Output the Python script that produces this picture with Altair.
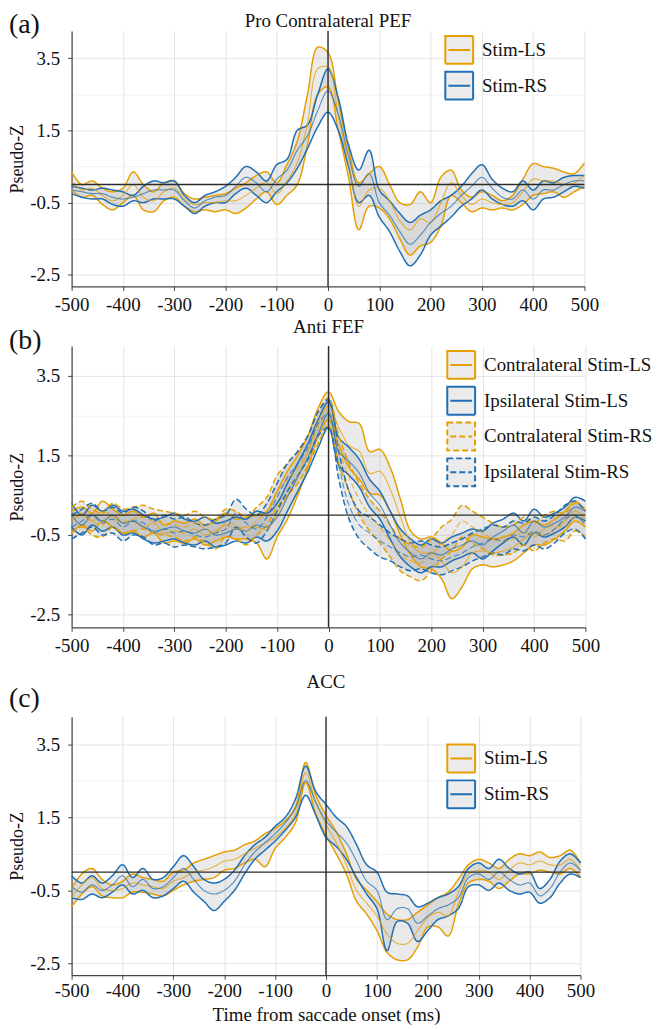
import altair as alt
import pandas as pd

T = list(range(-500, 501, 20))

# ---------------- Panel (a): Pro Contralateral PEF ----------------
A_LS_HI = [0.35, 0.0, 0.1, -0.1, -0.2, -0.1, 0.35, 0.0, -0.2, 0.05, 0.1, -0.25, -0.4, -0.35, -0.3, -0.25, -0.1, 0.05, 0.25, 0.35, 0.05,
           0.55, 1.2, 2.5, 3.8, 3.65, 2.3, 1.0, 0.05, 0.3, 0.5, 0.0, -0.5, -0.55, -0.2, -0.5, 0.2, 0.4, -0.15, -0.35, -0.2,
           -0.3, -0.45, -0.3, 0.15, 0.58, 0.5, 0.45, 0.35, 0.3, 0.6]
A_LS_MEAN = [0.1, -0.15, -0.1, -0.3, -0.45, -0.3, 0.0, -0.35, -0.45, -0.2, -0.1, -0.4, -0.55, -0.5, -0.5, -0.45, -0.45, -0.3, -0.1, 0.05, -0.25,
             0.1, 0.6, 1.7, 3.2, 3.25, 1.9, 0.6, -0.6, -0.15, -0.1, -0.45, -1.0, -1.25, -0.95, -1.05, -0.5, 0.05, -0.3, -0.55, -0.4,
             -0.5, -0.55, -0.5, -0.2, 0.15, 0.1, 0.1, 0.0, 0.05, 0.25]
A_LS_LO = [-0.15, -0.35, -0.3, -0.55, -0.7, -0.5, -0.3, -0.7, -0.75, -0.45, -0.35, -0.6, -0.75, -0.7, -0.75, -0.7, -0.8, -0.65, -0.4, -0.2, -0.55,
           -0.3, 0.0, 1.1, 2.5, 2.7, 1.5, 0.2, -1.25, -0.6, -0.65, -0.95, -1.5, -1.95, -1.7, -1.6, -1.15, -0.3, -0.5, -0.75, -0.65,
           -0.7, -0.65, -0.7, -0.55, -0.3, -0.25, -0.2, -0.35, -0.2, -0.05]
A_RS_HI = [-0.05, -0.1, -0.15, -0.1, -0.15, -0.2, -0.3, -0.05, 0.1, 0.05, 0.1, -0.3, -0.5, -0.3, -0.2, -0.05, 0.2, 0.5, 0.35, 0.1, 0.55,
           0.7, 1.5, 1.65, 2.5, 3.2, 2.4, 1.1, 0.4, 0.95, -0.15, -0.45, -0.8, -1.05, -0.85, -0.7, -0.45, -0.3, -0.05, 0.3, 0.55,
           0.15, -0.1, -0.2, 0.1, -0.15, 0.1, 0.05, 0.2, 0.25, 0.25]
A_RS_MEAN = [-0.15, -0.2, -0.25, -0.25, -0.35, -0.4, -0.35, -0.25, -0.15, -0.15, -0.15, -0.45, -0.65, -0.45, -0.35, -0.3, -0.05, 0.2, 0.05, -0.2, 0.15,
             0.4, 0.95, 1.35, 2.05, 2.6, 1.95, 0.8, -0.05, 0.3, -0.5, -0.85, -1.3, -1.65, -1.4, -1.05, -0.8, -0.6, -0.3, -0.05, 0.2,
             -0.1, -0.35, -0.4, -0.15, -0.4, -0.15, -0.15, 0.0, 0.1, 0.1]
A_RS_LO = [-0.25, -0.35, -0.4, -0.4, -0.55, -0.6, -0.45, -0.5, -0.4, -0.4, -0.4, -0.6, -0.8, -0.6, -0.5, -0.5, -0.25, -0.1, -0.3, -0.5, -0.2,
           0.05, 0.45, 1.0, 1.6, 2.0, 1.5, 0.5, -0.5, -0.3, -0.9, -1.3, -1.85, -2.25, -1.95, -1.4, -1.15, -0.9, -0.6, -0.4, -0.15,
           -0.4, -0.55, -0.6, -0.45, -0.7, -0.4, -0.35, -0.2, -0.05, -0.1]

# ---------------- Panel (b): Anti FEF ----------------
B_CLS_HI = [0.1, 0.2, 0.05, 0.35, 0.15, 0.0, 0.1, -0.05, 0.05, -0.25, -0.15, -0.2, -0.1, -0.25, -0.15, 0.05, -0.1, -0.05, 0.0, 0.1, 0.6,
            1.1, 1.5, 2.0, 2.7, 3.1, 2.6, 2.35, 2.3, 1.6, 1.65, 1.2, 0.4, -0.4, -0.6, -0.55, -0.7, -0.9, -0.8, -0.5, -0.55,
            -0.6, -0.55, -0.45, -0.25, -0.15, -0.25, -0.1, 0.1, 0.35, 0.1]
B_CLS_MEAN = [-0.15, 0.0, -0.15, 0.1, -0.05, -0.2, -0.15, -0.3, -0.2, -0.45, -0.4, -0.45, -0.35, -0.5, -0.4, -0.25, -0.35, -0.3, -0.3, -0.35, 0.05,
              0.5, 1.0, 1.6, 2.35, 2.75, 2.2, 1.75, 1.6, 1.05, 1.1, 0.65, -0.05, -0.7, -0.95, -0.95, -1.15, -1.45, -1.3, -0.95, -0.9,
              -0.95, -0.9, -0.8, -0.6, -0.45, -0.5, -0.35, -0.15, 0.1, -0.1]
B_CLS_LO = [-0.45, -0.25, -0.4, -0.15, -0.3, -0.45, -0.4, -0.55, -0.45, -0.7, -0.65, -0.7, -0.6, -0.75, -0.65, -0.55, -0.6, -0.6, -0.7, -1.1, -0.55,
            -0.1, 0.5, 1.2, 2.0, 2.4, 1.75, 1.2, 0.9, 0.55, 0.5, 0.1, -0.5, -1.0, -1.3, -1.35, -1.6, -2.1, -1.8, -1.35, -1.25,
            -1.3, -1.25, -1.15, -0.95, -0.75, -0.75, -0.6, -0.4, -0.15, -0.3]
B_ILS_HI = [0.3, 0.0, 0.25, 0.1, 0.25, 0.1, 0.15, 0.0, -0.1, -0.05, 0.05, -0.1, -0.15, -0.05, -0.2, -0.15, -0.05, -0.1, 0.1, 0.05, 0.3,
            0.8, 1.3, 1.8, 2.4, 2.85, 1.95, 1.7, 1.4, 0.9, 0.6, 0.1, -0.35, -0.6, -0.75, -0.6, -0.7, -0.55, -0.45, -0.35, -0.4,
            -0.2, -0.1, 0.05, -0.15, 0.15, -0.05, 0.05, 0.2, 0.45, 0.35]
B_ILS_MEAN = [0.0, -0.25, 0.0, -0.15, 0.0, -0.2, -0.15, -0.3, -0.4, -0.35, -0.3, -0.4, -0.45, -0.35, -0.5, -0.45, -0.35, -0.4, -0.25, -0.3, -0.05,
              0.45, 0.95, 1.45, 2.05, 2.55, 1.6, 1.35, 1.05, 0.55, 0.25, -0.25, -0.7, -0.95, -1.1, -0.95, -1.0, -0.85, -0.75, -0.65, -0.75,
              -0.55, -0.4, -0.25, -0.45, -0.15, -0.3, -0.2, -0.05, 0.2, 0.1]
B_ILS_LO = [-0.3, -0.5, -0.25, -0.4, -0.3, -0.5, -0.45, -0.6, -0.7, -0.65, -0.6, -0.7, -0.75, -0.65, -0.8, -0.75, -0.65, -0.7, -0.55, -0.65, -0.4,
            0.1, 0.6, 1.1, 1.7, 2.2, 1.25, 1.0, 0.7, 0.2, -0.1, -0.6, -1.05, -1.3, -1.45, -1.3, -1.3, -1.15, -1.05, -0.95, -1.1,
            -0.9, -0.7, -0.55, -0.75, -0.45, -0.55, -0.45, -0.3, -0.05, -0.15]
B_CRS_HI = [0.2, 0.35, 0.15, 0.05, 0.3, 0.15, 0.2, 0.25, 0.15, 0.1, 0.05, 0.0, 0.1, -0.05, -0.1, 0.15, 0.1, -0.05, 0.2, 0.45, 1.0,
            1.3, 1.6, 2.0, 2.6, 2.95, 2.0, 1.3, 0.8, 0.4, 0.1, -0.25, -0.6, -0.75, -0.8, -0.6, -0.3, -0.1, 0.25, 0.1, -0.05,
            -0.2, -0.3, -0.25, -0.05, -0.2, 0.0, 0.1, 0.05, 0.3, 0.15]
B_CRS_MEAN = [-0.1, 0.05, -0.15, -0.25, 0.0, -0.15, -0.1, -0.05, -0.15, -0.2, -0.25, -0.3, -0.2, -0.35, -0.45, -0.2, -0.25, -0.4, -0.15, 0.1, 0.6,
              0.9, 1.2, 1.6, 2.2, 2.6, 1.65, 0.95, 0.4, 0.0, -0.3, -0.65, -1.0, -1.15, -1.2, -1.0, -0.7, -0.5, -0.15, -0.3, -0.45,
              -0.6, -0.65, -0.6, -0.4, -0.55, -0.35, -0.25, -0.3, -0.05, -0.2]
B_CRS_LO = [-0.45, -0.3, -0.5, -0.55, -0.3, -0.45, -0.4, -0.35, -0.45, -0.5, -0.55, -0.65, -0.55, -0.7, -0.85, -0.55, -0.6, -0.75, -0.5, -0.25, 0.2,
            0.5, 0.8, 1.25, 1.8, 2.25, 1.3, 0.6, 0.0, -0.4, -0.7, -1.05, -1.4, -1.55, -1.65, -1.4, -1.1, -0.9, -0.55, -0.7, -0.85,
            -1.0, -1.0, -0.95, -0.75, -0.9, -0.7, -0.6, -0.65, -0.4, -0.55]
B_IRS_HI = [0.0, 0.15, 0.3, 0.1, 0.2, 0.05, 0.2, 0.1, -0.15, 0.0, -0.1, -0.05, -0.2, -0.25, -0.1, 0.0, 0.4, 0.15, 0.0, 0.3, 0.8,
            1.3, 1.6, 2.0, 2.6, 2.9, 1.6, 0.6, 0.1, -0.05, -0.25, -0.45, -0.6, -0.7, -0.65, -0.75, -0.8, -0.7, -0.6, -0.45, -0.35,
            -0.25, -0.3, -0.15, -0.2, -0.05, -0.15, 0.0, 0.25, 0.35, 0.1]
B_IRS_MEAN = [-0.3, -0.15, 0.0, -0.2, -0.1, -0.3, -0.15, -0.2, -0.45, -0.35, -0.45, -0.4, -0.5, -0.55, -0.45, -0.35, 0.05, -0.2, -0.35, -0.05, 0.45,
              0.95, 1.3, 1.7, 2.3, 2.55, 1.25, 0.25, -0.25, -0.45, -0.65, -0.8, -0.95, -1.05, -1.0, -1.1, -1.15, -1.05, -0.95, -0.8, -0.7,
              -0.6, -0.65, -0.5, -0.55, -0.4, -0.5, -0.35, -0.1, 0.0, -0.25]
B_IRS_LO = [-0.6, -0.45, -0.3, -0.5, -0.45, -0.65, -0.5, -0.55, -0.75, -0.7, -0.8, -0.75, -0.8, -0.85, -0.8, -0.7, -0.3, -0.55, -0.7, -0.4, 0.1,
            0.6, 1.0, 1.4, 2.0, 2.2, 0.9, -0.1, -0.6, -0.85, -1.05, -1.15, -1.3, -1.4, -1.35, -1.45, -1.5, -1.4, -1.3, -1.15, -1.05,
            -0.95, -1.0, -0.85, -0.9, -0.75, -0.85, -0.7, -0.45, -0.35, -0.6]

# ---------------- Panel (c): ACC ----------------
C_LS_HI = [-0.45, -0.05, 0.1, -0.2, -0.35, -0.25, -0.05, -0.15, -0.2, -0.25, 0.0, 0.05, 0.25, 0.35, 0.45, 0.55, 0.6, 0.75, 0.85, 1.05, 1.2,
           1.4, 1.8, 3.0, 2.1, 1.55, 1.1, 0.5, -0.2, -0.5, -0.8, -1.15, -1.3, -1.3, -1.1, -0.9, -0.7, -0.55, -0.2, 0.2, 0.35,
           0.25, 0.1, 0.35, 0.5, 0.45, 0.55, 0.4, 0.45, 0.6, 0.25]
C_LS_MEAN = [-0.7, -0.35, -0.15, -0.45, -0.5, -0.45, -0.3, -0.35, -0.4, -0.45, -0.25, -0.15, 0.0, 0.05, 0.15, 0.3, 0.35, 0.5, 0.65, 0.8, 0.95,
             1.2, 1.6, 2.72, 1.9, 1.3, 0.8, 0.2, -0.5, -0.85, -1.2, -1.7, -1.95, -1.95, -1.6, -1.25, -1.1, -1.2, -0.55, -0.05, 0.05,
             0.0, -0.2, 0.05, 0.25, 0.2, 0.3, 0.2, 0.2, 0.35, 0.05]
C_LS_LO = [-0.95, -0.6, -0.4, -0.65, -0.7, -0.7, -0.55, -0.55, -0.6, -0.65, -0.5, -0.35, -0.25, -0.2, -0.15, 0.05, 0.1, 0.25, 0.35, 0.15, 0.65,
           0.95, 1.35, 2.45, 1.6, 1.0, 0.5, -0.05, -0.8, -1.15, -1.6, -2.2, -2.4, -2.4, -2.05, -1.5, -1.5, -1.75, -0.9, -0.3, -0.2,
           -0.25, -0.45, -0.25, -0.05, -0.05, 0.05, 0.0, -0.05, 0.1, -0.15]
C_RS_HI = [-0.1, -0.3, -0.1, -0.3, -0.1, 0.2, -0.15, 0.1, -0.2, -0.15, 0.15, 0.45, 0.15, -0.2, -0.3, -0.2, 0.05, 0.45, 0.75, 0.95, 1.25,
           1.5, 2.0, 2.9, 2.2, 1.85, 1.5, 1.25, 0.75, 0.2, 0.0, -0.55, -0.6, -0.65, -0.95, -0.85, -0.7, -0.6, -0.4, 0.1, 0.25,
           0.1, 0.35, 0.1, -0.05, 0.0, -0.45, -0.2, 0.3, 0.5, 0.25]
C_RS_MEAN = [-0.4, -0.55, -0.35, -0.5, -0.35, -0.1, -0.4, -0.2, -0.45, -0.4, -0.15, 0.1, -0.2, -0.5, -0.6, -0.5, -0.25, 0.2, 0.55, 0.8, 1.05,
             1.35, 1.75, 2.5, 1.9, 1.4, 1.1, 0.8, 0.3, -0.25, -0.5, -1.3, -1.0, -1.0, -1.4, -1.2, -1.0, -0.9, -0.7, -0.15, -0.05,
             -0.2, 0.0, -0.2, -0.35, -0.3, -0.65, -0.45, 0.0, 0.25, 0.05]
C_RS_LO = [-0.7, -0.75, -0.6, -0.7, -0.55, -0.35, -0.6, -0.5, -0.7, -0.65, -0.45, -0.25, -0.55, -0.8, -1.05, -0.8, -0.5, -0.05, 0.35, 0.6, 0.85,
           1.15, 1.5, 2.1, 1.55, 0.95, 0.7, 0.35, -0.15, -0.6, -1.0, -2.15, -1.35, -1.4, -1.9, -1.6, -1.3, -1.2, -1.0, -0.4, -0.35,
           -0.5, -0.3, -0.5, -0.6, -0.55, -0.85, -0.7, -0.3, -0.05, -0.15]

ALL = [A_LS_HI, A_LS_MEAN, A_LS_LO, A_RS_HI, A_RS_MEAN, A_RS_LO,
       B_CLS_HI, B_CLS_MEAN, B_CLS_LO, B_ILS_HI, B_ILS_MEAN, B_ILS_LO,
       B_CRS_HI, B_CRS_MEAN, B_CRS_LO, B_IRS_HI, B_IRS_MEAN, B_IRS_LO,
       C_LS_HI, C_LS_MEAN, C_LS_LO, C_RS_HI, C_RS_MEAN, C_RS_LO]
for arr in ALL:
    assert len(arr) == len(T), len(arr)

FONT = "Liberation Serif"
ORANGE = "#E69F00"
BLUE = "#1F6FB4"
KEY_PATH = "M-1,-1H1V1H-1Z M-0.78,0H0.78"
TXT = "#111111"


def frame(series):
    rows = []
    for name, (hi, mean, lo) in series.items():
        for t, h, m, l in zip(T, hi, mean, lo):
            rows.append({"t": t, "series": name, "hi": h, "mean": m, "lo": l})
    return pd.DataFrame(rows)


def panel(df, names, colors, dashes, title, title_y, tag, tag_y, width, height,
          leg_x, leg_y, x_title=None, x_title_size=19, x_title_pad=3, x_label_pad=5):
    xs = alt.Scale(domain=[-500, 500], nice=False, zero=False)
    ys = alt.Scale(domain=[-2.82, 4.25], nice=False, zero=False)
    x_axis = alt.Axis(
        values=list(range(-500, 501, 50)),
        labelExpr="datum.value % 100 === 0 ? datum.value + '' : ''",
        labelFlush=False, labelOverlap=False,
        labelFont=FONT, labelFontSize=19, labelColor=TXT, labelPadding=x_label_pad,
        tickOpacity={"condition": {"test": "datum.value % 100 === 0", "value": 1}, "value": 0},
        gridColor={"condition": {"test": "datum.value % 100 === 0", "value": "#e3e3e3"}, "value": "#f2f2f2"},
        title=x_title, titleFont=FONT, titleFontSize=x_title_size, titleFontWeight="normal",
        titleColor=TXT, titlePadding=x_title_pad,
    )
    y_axis = alt.Axis(
        values=[-2.5, -1.5, -0.5, 0.5, 1.5, 2.5, 3.5],
        labelExpr="(datum.value + 2.5) % 2 === 0 ? datum.value + '' : ''",
        labelFlush=False, labelOverlap=False,
        labelFont=FONT, labelFontSize=19, labelColor=TXT, labelPadding=8,
        tickOpacity={"condition": {"test": "(datum.value + 2.5) % 2 === 0", "value": 1}, "value": 0},
        gridColor={"condition": {"test": "(datum.value + 2.5) % 2 === 0", "value": "#e3e3e3"}, "value": "#f2f2f2"},
        title="Pseudo-Z", titleFont=FONT, titleFontSize=18, titleFontWeight="normal",
        titleColor=TXT, titlePadding=3,
    )
    base = alt.Chart(df)
    x = alt.X("t:Q", scale=xs, axis=x_axis)
    stroke_scale = alt.Scale(domain=names, range=colors)
    dash_scale = alt.Scale(domain=names, range=dashes)
    legend = alt.Legend(
        orient="none", legendX=leg_x, legendY=leg_y, title=None,
        symbolType=KEY_PATH, symbolSize=784, symbolStrokeWidth=2,
        symbolFillColor="#ebebeb", symbolOpacity=1,
        labelFont=FONT, labelFontSize=19, labelColor=TXT, labelOffset=8,
        labelLimit=400, rowPadding=0, padding=0,
    )

    area = base.mark_area(interpolate="catmull-rom", color="#a0a0a0", opacity=0.22).encode(
        x=x, y=alt.Y("lo:Q", scale=ys, axis=y_axis), y2="hi:Q", detail="series:N"
    )
    bounds = base.transform_fold(["lo", "hi"], as_=["kind", "val"]).mark_line(
        interpolate="catmull-rom", strokeWidth=1.5
    ).encode(
        x=x, y=alt.Y("val:Q", scale=ys),
        stroke=alt.Stroke("series:N", scale=stroke_scale, legend=legend),
        strokeDash=alt.StrokeDash("series:N", scale=dash_scale, legend=legend),
        detail="kind:N",
    )
    means = base.mark_line(interpolate="catmull-rom", strokeWidth=1.1, opacity=0.75).encode(
        x=x, y=alt.Y("mean:Q", scale=ys),
        stroke=alt.Stroke("series:N", scale=stroke_scale, legend=None),
        strokeDash=alt.StrokeDash("series:N", scale=dash_scale, legend=None),
    )
    zero = pd.DataFrame({"v": [0]})
    hline = alt.Chart(zero).mark_rule(color="#2b2b2b", strokeWidth=1.4).encode(y=alt.Y("v:Q", scale=ys))
    vline = alt.Chart(zero).mark_rule(color="#2b2b2b", strokeWidth=1.4).encode(x=alt.X("v:Q", scale=xs))
    tag_mark = alt.Chart(pd.DataFrame({"lab": [tag]})).mark_text(
        font=FONT, fontSize=28, align="left", baseline="middle", color=TXT
    ).encode(text="lab:N", x=alt.value(-63), y=alt.value(tag_y))
    title_mark = alt.Chart(pd.DataFrame({"lab": [title]})).mark_text(
        font=FONT, fontSize=19, align="center", baseline="middle", color=TXT
    ).encode(text="lab:N", x=alt.value(width / 2), y=alt.value(title_y))

    return alt.layer(area, bounds, means, hline, vline, tag_mark, title_mark).properties(
        width=width, height=height,
    )


df_a = frame({"Stim-LS": (A_LS_HI, A_LS_MEAN, A_LS_LO), "Stim-RS": (A_RS_HI, A_RS_MEAN, A_RS_LO)})
df_b = frame({
    "Contralateral Stim-LS": (B_CLS_HI, B_CLS_MEAN, B_CLS_LO),
    "Ipsilateral Stim-LS": (B_ILS_HI, B_ILS_MEAN, B_ILS_LO),
    "Contralateral Stim-RS": (B_CRS_HI, B_CRS_MEAN, B_CRS_LO),
    "Ipsilateral Stim-RS": (B_IRS_HI, B_IRS_MEAN, B_IRS_LO),
})
df_c = frame({"Stim-LS": (C_LS_HI, C_LS_MEAN, C_LS_LO), "Stim-RS": (C_RS_HI, C_RS_MEAN, C_RS_LO)})

pa = panel(df_a, ["Stim-LS", "Stim-RS"], [ORANGE, BLUE], [[1, 0], [1, 0]],
           "Pro Contralateral PEF", -10.5, "(a)", -6, 516, 257, 375, 4)
pb = panel(df_b, ["Contralateral Stim-LS", "Ipsilateral Stim-LS", "Contralateral Stim-RS", "Ipsilateral Stim-RS"],
           [ORANGE, BLUE, ORANGE, BLUE], [[1, 0], [1, 0], [6, 3], [6, 3]],
           "Anti FEF", -19, "(b)", -5, 517, 283, 377, 4, x_title=" ", x_title_size=13.5, x_title_pad=0)
pc = panel(df_c, ["Stim-LS", "Stim-RS"], [ORANGE, BLUE], [[1, 0], [1, 0]],
           "ACC", -35, "(c)", -17.5, 512, 260, 377, 27, x_title="Time from saccade onset (ms)",
           x_title_pad=6, x_label_pad=2)

chart = alt.vconcat(pa, pb, pc, spacing=4).resolve_scale(
    x="independent", y="independent", stroke="independent", strokeDash="independent"
).properties(padding=0).configure(font=FONT).configure_view(stroke=None).configure_axis(
    domainColor="#444", domainWidth=1.2, tickColor="#444", tickSize=4, gridWidth=1,
    labelFont=FONT, titleFont=FONT,
)

chart.save("out.html", embed_options={"renderer": "svg", "actions": False})
